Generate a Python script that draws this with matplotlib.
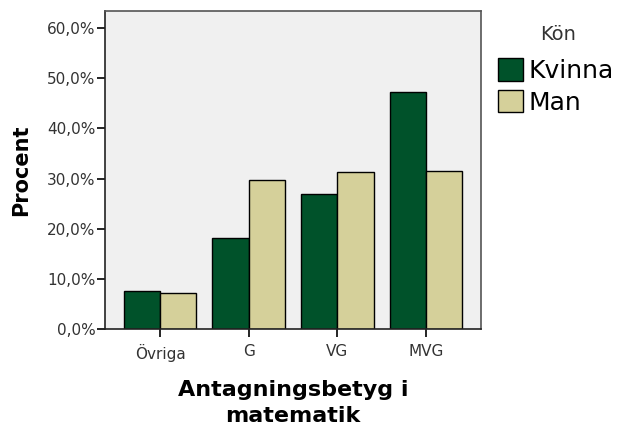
import matplotlib
matplotlib.use('Agg')
import matplotlib.pyplot as plt
import numpy as np
from matplotlib.patches import Patch
from matplotlib.ticker import FuncFormatter

# Data
kategorier = ['Övriga', 'G', 'VG', 'MVG']
kvinna = [7.6, 18.2, 27.0, 47.3]
man = [7.2, 29.8, 31.3, 31.5]
serier = ['Kvinna', 'Man']
y_ticks = [0, 10, 20, 30, 40, 50, 60]

GREEN = '#00522A'
BEIGE = '#D5D09A'
TEXT = '#333333'

fig = plt.figure(figsize=(6.18, 4.26), dpi=100)
ax = fig.add_axes([0.170, 0.2277, 0.608, 0.7463])
ax.set_facecolor('#F0F0F0')

x = np.arange(len(kategorier))
w = 0.41
ax.bar(x - w / 2, kvinna, w, color=GREEN, edgecolor='black', linewidth=1.0)
ax.bar(x + w / 2, man, w, color=BEIGE, edgecolor='black', linewidth=1.0)

ax.set_xlim(-0.62, 3.62)
ax.set_ylim(0, 63.4)
ax.set_yticks(y_ticks)
ax.yaxis.set_major_formatter(FuncFormatter(lambda v, p: f'{v:.1f}%'.replace('.', ',')))
ax.set_xticks(x)
ax.set_xticklabels(kategorier)

ax.tick_params(axis='both', direction='out', length=6, width=1.2, colors='black',
               labelcolor=TEXT, labelsize=11, pad=1)
ax.tick_params(axis='x', pad=5)
for s in ax.spines.values():
    s.set_linewidth(1.2)
    s.set_color('#222222')
ax.spines['top'].set_color('#555555')
ax.spines['right'].set_color('#555555')

ax.set_ylabel('Procent', fontsize=15, fontweight='bold', color='black', labelpad=11)
ax.set_xlabel('Antagningsbetyg i\nmatematik', fontsize=16, fontweight='bold',
              color='black', labelpad=13, linespacing=1.35)

# Legend
fig.text(0.903, 0.918, 'Kön', ha='center', va='center', fontsize=14, color=TEXT)
handles = [Patch(facecolor=GREEN, edgecolor='black'), Patch(facecolor=BEIGE, edgecolor='black')]
leg = fig.legend(handles, serier, loc='upper left',
                 bbox_to_anchor=(0.806, 0.863), frameon=False, fontsize=18,
                 handlelength=1.0, handleheight=1.0,
                 handletextpad=0.2, labelspacing=0.28, borderaxespad=0,
                 borderpad=0)

plt.savefig('out.png', dpi=100)
plt.close()
